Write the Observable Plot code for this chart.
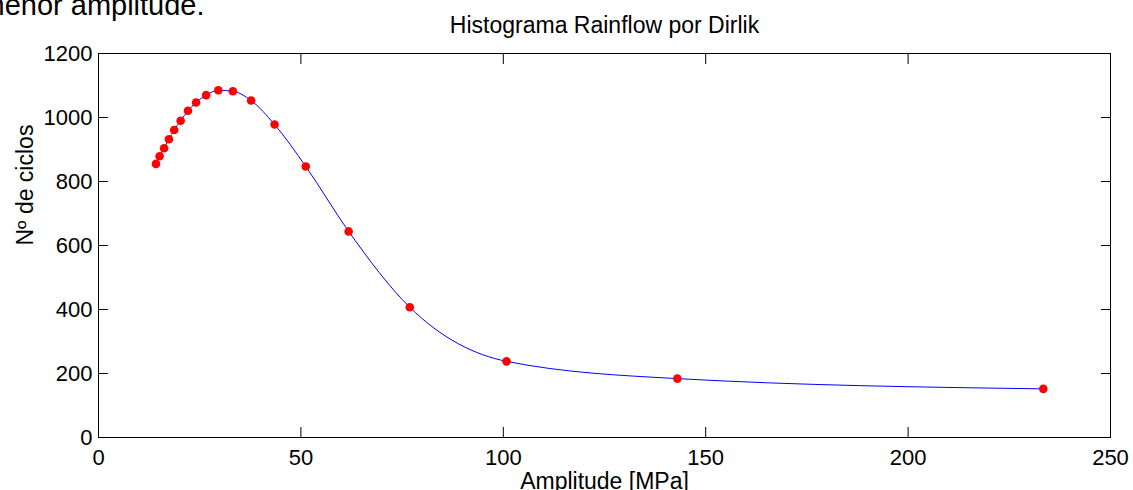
<!DOCTYPE html>
<html><head><meta charset="utf-8">
<script src="https://cdn.jsdelivr.net/npm/d3@7"></script>
<script src="https://cdn.jsdelivr.net/npm/@observablehq/plot@0.6"></script>
<style>
html,body{margin:0;padding:0;background:#fff;}
#chart{width:1133px;height:490px;overflow:hidden;position:relative;}
#chart svg{display:block;}
</style></head><body><div id="chart"></div>
<script>
const amplitude = [14.2, 15.1, 16.2, 17.4, 18.7, 20.3, 22.1, 24.1, 26.6, 29.6, 33.2, 37.7, 43.5, 51.2, 61.8, 76.9, 100.8, 143.0, 233.4];
const cycles = [855, 879, 904, 932, 961, 990, 1021, 1047, 1070, 1085, 1082, 1053, 978, 847, 644, 407, 238, 184, 152];
const xTicks = [0, 50, 100, 150, 200, 250];
const yTicks = [0, 200, 400, 600, 800, 1000, 1200];
const titleText = "Histograma Rainflow por Dirlik";
const xLabel = "Amplitude [MPa]";
const yLabel = "Nº de ciclos";
const pageText = "menor amplitude.";

const data = amplitude.map((x, i) => ({x, y: cycles[i]}));
const fs = 22;
const fmt = d3.format("d");

const chart = Plot.plot({
  width: 1133, height: 490,
  marginLeft: 98, marginRight: 23, marginTop: 53, marginBottom: 53,
  style: {fontFamily: "'Liberation Sans', Arial, sans-serif", background: "#fff", color: "#000"},
  x: {domain: [0, 250]},
  y: {domain: [0, 1200]},
  marks: [
    Plot.line(data, {x: "x", y: "y", stroke: "#0000ff", strokeWidth: 1, curve: "monotone-x"}),
    Plot.dot(data, {x: "x", y: "y", r: 4.3, fill: "#ff0000", stroke: "none"}),
    Plot.frame({stroke: "#000", strokeWidth: 1}),
    Plot.axisX(xTicks, {anchor: "bottom", tickSize: 0, tickPadding: 12, fontSize: fs, tickFormat: fmt, label: null}),
    Plot.axisY(yTicks, {anchor: "left", tickSize: 0, tickPadding: 6, fontSize: fs, tickFormat: fmt, label: null}),
    Plot.axisX(xTicks, {anchor: "bottom", tickSize: -10, fill: "none", label: null}),
    Plot.axisX(xTicks, {anchor: "top", tickSize: -10, fill: "none", label: null}),
    Plot.axisY(yTicks, {anchor: "left", tickSize: -10, fill: "none", label: null}),
    Plot.axisY(yTicks, {anchor: "right", tickSize: -10, fill: "none", label: null}),
    Plot.text([titleText], {text: d => d, frameAnchor: "top", dy: -28, fontSize: 23, lineAnchor: "middle"}),
    Plot.text([xLabel], {text: d => d, frameAnchor: "bottom", dy: 44, fontSize: 23, lineAnchor: "middle"}),
    Plot.text([yLabel], {text: d => d, frameAnchor: "left", dx: -73, rotate: -90, fontSize: 23, lineAnchor: "middle"}),
    Plot.text([pageText], {text: d => d, frameAnchor: "top-left", dx: -118, dy: -48, fontSize: 29, textAnchor: "start", lineAnchor: "middle"})
  ]
});
document.getElementById("chart").appendChild(chart);
</script>
</body></html>
